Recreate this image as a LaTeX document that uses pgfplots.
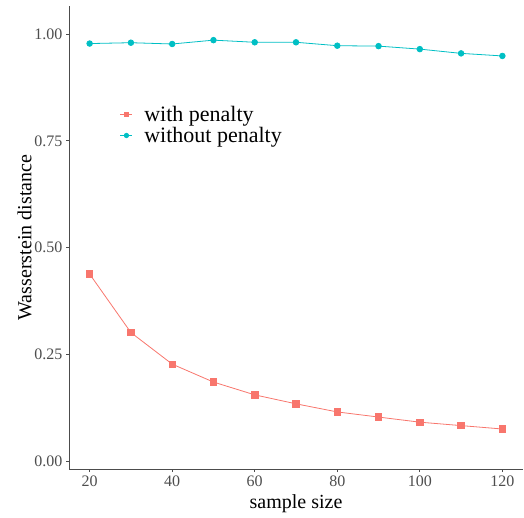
\documentclass[border=0pt]{standalone}
\usepackage{fontspec}
\setmainfont{Liberation Serif}
\usepackage{pgfplots}
\pgfplotsset{compat=1.18}
\definecolor{penred}{HTML}{F8766D}
\definecolor{nopencyan}{HTML}{00BFC4}
\definecolor{ticktext}{HTML}{4D4D4D}

\begin{document}
\begin{tikzpicture}
\useasboundingbox (0,0) rectangle (524pt,517pt);
\begin{axis}[
    at={(69pt,48pt)}, anchor=south west,
    width=454pt, height=463pt, scale only axis,
    xmin=15, xmax=125,
    ymin=-0.0187, ymax=1.066,
    axis lines*=left,
    axis line style={black!70, line width=0.9pt},
    tick style={black!70, line width=0.9pt},
    tick align=outside,
    major tick length=3pt,
    xtick={20,40,60,80,100,120},
    ytick={0,0.25,0.5,0.75,1},
    /pgf/number format/assume math mode=true,
    yticklabel style={/pgf/number format/.cd, fixed, fixed zerofill, precision=2},
    ticklabel style={font=\fontsize{16}{16}\selectfont, text=ticktext},
    xlabel={sample size},
    ylabel={Wasserstein distance},
    label style={font=\fontsize{20}{20}\selectfont},
    xlabel style={yshift=-1pt},
    ylabel style={yshift=-4pt},
    legend style={at={(0.112,0.788)}, anchor=north west, draw=none, fill=none,
      font=\fontsize{22}{20}\selectfont, inner sep=0pt, row sep=1.5pt,
      nodes={inner sep=1.5pt}},
    legend cell align=left,
    legend image code/.code={
      \draw[#1, mark repeat=2, mark phase=2, mark size=2.2pt] plot coordinates {(0pt,0pt)(6pt,0pt)(12pt,0pt)};
    },
]
\addplot[color=penred, line width=0.8pt, mark=square*, mark size=3.2pt, mark options={solid}] coordinates {
(20,0.438) (30,0.301) (40,0.227) (50,0.185) (60,0.155) (70,0.134)
(80,0.115) (90,0.103) (100,0.091) (110,0.083) (120,0.075)};
\addplot[color=nopencyan, line width=0.8pt, mark=*, mark size=2.8pt, mark options={solid}] coordinates {
(20,0.978) (30,0.980) (40,0.977) (50,0.986) (60,0.981) (70,0.981)
(80,0.973) (90,0.972) (100,0.965) (110,0.955) (120,0.949)};
\legend{\hspace{10pt}with penalty, \hspace{10pt}without penalty}
\end{axis}
\end{tikzpicture}
\end{document}
